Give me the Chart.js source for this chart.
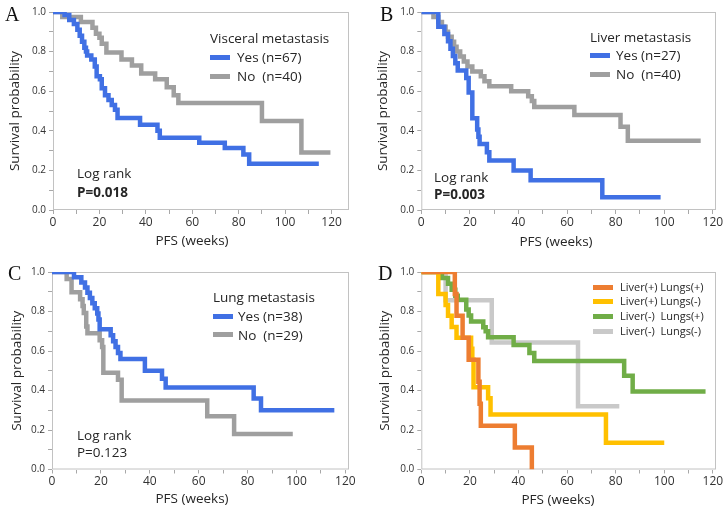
<!DOCTYPE html>
<html>
<head>
    <meta charset="UTF-8">
    <title>PFS by metastasis site</title>
    <script src="https://cdn.jsdelivr.net/npm/chart.js"></script>
    <style>
        body { margin: 0; background: #fff; font-family: 'Open Sans', sans-serif; color: #262626; }
        #page { position: relative; width: 727px; height: 516px; overflow: hidden; }
        canvas { position: absolute; }
        .letter { position: absolute; font-family: 'Liberation Serif', serif; font-size: 20px; line-height: 20px; color: #111; }
        .txt { position: absolute; font-size: 13.5px; line-height: 16px; white-space: pre; }
        .small { font-size: 11px; line-height: 14px; }
        .xt { position: absolute; width: 200px; text-align: center; font-size: 13.5px; line-height: 16px; }
        .sw { position: absolute; width: 20px; height: 5px; }
    </style>
</head>
<body>
<div id="page">
    <canvas id="chartA" width="363" height="258" style="left:0;top:0"></canvas>
    <canvas id="chartB" width="364" height="258" style="left:363px;top:0"></canvas>
    <canvas id="chartC" width="363" height="258" style="left:0;top:258px"></canvas>
    <canvas id="chartD" width="364" height="258" style="left:363px;top:258px"></canvas>

    <!-- panel letters -->
    <div class="letter" style="left:5px;top:4px">A</div>
    <div class="letter" style="left:380px;top:4px">B</div>
    <div class="letter" style="left:8px;top:263px">C</div>
    <div class="letter" style="left:378px;top:263px">D</div>

    <!-- x axis titles -->
    <div class="xt" style="left:92px;top:232px">PFS (weeks)</div>
    <div class="xt" style="left:456px;top:233px">PFS (weeks)</div>
    <div class="xt" style="left:92px;top:490px">PFS (weeks)</div>
    <div class="xt" style="left:458px;top:491px">PFS (weeks)</div>

    <!-- A legend -->
    <div class="txt" style="left:210px;top:30px">Visceral metastasis</div>
    <div class="sw" style="left:210px;top:54.5px;background:#4070e4"></div>
    <div class="txt" style="left:237px;top:49px">Yes (n=67)</div>
    <div class="sw" style="left:210px;top:73.5px;background:#9f9f9f"></div>
    <div class="txt" style="left:237px;top:68px">No  (n=40)</div>
    <div class="txt" style="left:77px;top:165px">Log rank</div>
    <div class="txt" style="left:77px;top:184px;font-weight:bold">P=0.018</div>

    <!-- B legend -->
    <div class="txt" style="left:590px;top:29px">Liver metastasis</div>
    <div class="sw" style="left:590px;top:52.5px;background:#4070e4"></div>
    <div class="txt" style="left:616px;top:47px">Yes (n=27)</div>
    <div class="sw" style="left:590px;top:71.5px;background:#9f9f9f"></div>
    <div class="txt" style="left:616px;top:66px">No  (n=40)</div>
    <div class="txt" style="left:434px;top:169px">Log rank</div>
    <div class="txt" style="left:434px;top:186px;font-weight:bold">P=0.003</div>

    <!-- C legend -->
    <div class="txt" style="left:213px;top:289px">Lung metastasis</div>
    <div class="sw" style="left:213px;top:313.5px;background:#4070e4"></div>
    <div class="txt" style="left:238px;top:308px">Yes (n=38)</div>
    <div class="sw" style="left:213px;top:332px;background:#9f9f9f"></div>
    <div class="txt" style="left:238px;top:327px">No  (n=29)</div>
    <div class="txt" style="left:77px;top:427px">Log rank</div>
    <div class="txt" style="left:77px;top:444px">P=0.123</div>

    <!-- D legend -->
    <div class="sw" style="left:593px;top:285px;background:#ed7d31"></div>
    <div class="txt small" style="left:620px;top:280px">Liver(+) Lungs(+)</div>
    <div class="sw" style="left:593px;top:299px;background:#ffc000"></div>
    <div class="txt small" style="left:620px;top:294px">Liver(+) Lungs(-)</div>
    <div class="sw" style="left:593px;top:314px;background:#70ad47"></div>
    <div class="txt small" style="left:620px;top:309px">Liver(-)  Lungs(+)</div>
    <div class="sw" style="left:593px;top:329px;background:#c9c9c9"></div>
    <div class="txt small" style="left:620px;top:324px">Liver(-)  Lungs(-)</div>
</div>

<script>
    // Panel A - visceral metastasis
    var visYesWeeks = [0, 5, 7, 9, 10.5, 11.5, 12.5, 13.5, 14.2, 14.7, 16.5, 18, 18.8, 20.2, 21, 22.4, 23.9, 25.3, 26.7, 27.8, 37.5, 45, 46, 63, 74, 82, 84.5, 114.5];
    var visYesSurv = [1, 0.985, 0.96, 0.94, 0.91, 0.88, 0.85, 0.82, 0.80, 0.78, 0.76, 0.725, 0.675, 0.66, 0.615, 0.58, 0.556, 0.53, 0.506, 0.465, 0.43, 0.40, 0.365, 0.34, 0.313, 0.28, 0.233, 0.233];
    var visNoWeeks = [0, 4, 12, 17, 18.5, 20, 21, 23, 29.5, 34, 38, 44, 49, 52, 54, 90, 107, 119.5];
    var visNoSurv = [1, 0.975, 0.95, 0.92, 0.89, 0.87, 0.84, 0.795, 0.76, 0.73, 0.69, 0.66, 0.62, 0.58, 0.54, 0.45, 0.29, 0.29];

    // Panel B - liver metastasis
    var livYesWeeks = [0, 7, 9.5, 11, 12, 13, 14, 15, 18.5, 19.5, 21, 23, 23.5, 24, 27, 28, 38, 45, 74.5, 98.5];
    var livYesSurv = [1, 0.926, 0.889, 0.852, 0.815, 0.778, 0.741, 0.704, 0.667, 0.593, 0.463, 0.407, 0.37, 0.333, 0.292, 0.25, 0.20, 0.15, 0.065, 0.065];
    var livNoWeeks = [0, 5, 7, 8.5, 10, 11, 12.5, 13.5, 14.5, 16, 17.5, 19, 21, 24.5, 26, 28, 37, 44, 45.5, 46.5, 63, 82, 85, 115];
    var livNoSurv = [1, 0.975, 0.95, 0.925, 0.90, 0.875, 0.85, 0.825, 0.80, 0.775, 0.75, 0.725, 0.70, 0.675, 0.65, 0.625, 0.60, 0.575, 0.55, 0.52, 0.48, 0.42, 0.35, 0.35];

    // Panel C - lung metastasis
    var lungYesWeeks = [0, 9, 12, 13.5, 14.5, 15.5, 16.5, 17.5, 18.5, 19, 19.5, 24, 25, 26, 27, 28, 38, 45, 46.5, 82.5, 85.5, 115.5];
    var lungYesSurv = [1, 0.974, 0.947, 0.921, 0.895, 0.868, 0.842, 0.816, 0.79, 0.76, 0.71, 0.68, 0.65, 0.62, 0.59, 0.56, 0.50, 0.46, 0.415, 0.36, 0.30, 0.30];
    var lungNoWeeks = [0, 6, 8, 11.5, 12.5, 13, 14, 14.5, 19.5, 20.5, 21, 27, 28.5, 63.5, 74.5, 98.5];
    var lungNoSurv = [1, 0.965, 0.897, 0.862, 0.828, 0.793, 0.724, 0.69, 0.655, 0.62, 0.49, 0.455, 0.35, 0.27, 0.18, 0.18];

    // Panel D - combined groups
    var lpLpWeeks = [0, 13.8, 14.5, 17, 19.5, 23.5, 24, 24.5, 38.5, 45.5];
    var lpLpSurv = [1, 0.889, 0.778, 0.667, 0.556, 0.444, 0.333, 0.222, 0.111, 0];
    var lpLmWeeks = [0, 7, 10, 11, 12.5, 14.5, 20.5, 21, 21.5, 27.5, 28.5, 76, 100];
    var lpLmSurv = [1, 0.889, 0.833, 0.778, 0.722, 0.667, 0.611, 0.556, 0.417, 0.361, 0.278, 0.135, 0.135];
    var lmLpWeeks = [0, 8.5, 11, 12.5, 14, 15, 18.5, 19.5, 20.5, 25.5, 26.5, 27.5, 38, 44.5, 46.5, 83.5, 87, 117];
    var lmLpSurv = [1, 0.97, 0.94, 0.91, 0.88, 0.86, 0.81, 0.78, 0.75, 0.72, 0.70, 0.67, 0.63, 0.59, 0.55, 0.475, 0.395, 0.395];
    var lmLmWeeks = [0, 10, 29, 64.5, 81.5];
    var lmLmSurv = [1, 0.857, 0.643, 0.32, 0.32];

    var xStep = 10;
    var yStep = 0.1;

    function pts(weeks, surv) {
        return weeks.map(function (t, i) { return { x: t, y: surv[i] }; });
    }

    // light grey box round the plot area
    var framePlugin = {
        id: 'frame',
        beforeDatasetsDraw: function (chart) {
            var a = chart.chartArea, c = chart.ctx;
            c.save();
            c.strokeStyle = '#c2c2c2';
            c.lineWidth = 1;
            c.strokeRect(a.left + 0.5, a.top + 0.5, a.right - a.left - 1, a.bottom - a.top - 1);
            c.restore();
        }
    };

    function makeChart(id, series, L) {
        return new Chart(document.getElementById(id), {
            type: 'line',
            data: {
                datasets: series.map(function (s, i) {
                    return {
                        data: pts(s.weeks, s.surv),
                        borderColor: s.color,
                        borderWidth: 4.5,
                        stepped: true,
                        pointRadius: 0,
                        fill: false,
                        borderCapStyle: 'butt',
                        borderJoinStyle: 'miter',
                        order: i
                    };
                })
            },
            options: {
                responsive: false,
                animation: false,
                devicePixelRatio: 1,
                layout: { padding: { top: L.top, right: L.right, left: 0, bottom: 0 } },
                plugins: { legend: { display: false }, tooltip: { enabled: false } },
                scales: {
                    x: {
                        type: 'linear',
                        min: 0,
                        max: L.xMax,
                        border: { display: false },
                        grid: { drawOnChartArea: false, drawTicks: true, tickLength: 4, color: '#a8a8a8' },
                        ticks: {
                            stepSize: xStep,
                            includeBounds: false,
                            autoSkip: false,
                            maxRotation: 0,
                            padding: 1,
                            color: '#333',
                            font: { family: 'Open Sans', size: 12 },
                            callback: function (v) { return v % 20 === 0 ? v : ''; }
                        },
                        afterFit: function (s) { s.height = L.xh; }
                    },
                    y: {
                        min: 0,
                        max: 1,
                        border: { display: false },
                        grid: { drawOnChartArea: false, drawTicks: true, tickLength: 4, color: '#a8a8a8' },
                        ticks: {
                            stepSize: yStep,
                            autoSkip: false,
                            padding: 3,
                            color: '#333',
                            font: { family: 'Open Sans', size: 10 },
                            callback: function (v) { return Math.round(v * 10) % 2 === 0 ? v.toFixed(1) : ''; }
                        },
                        title: {
                            display: true,
                            text: 'Survival probability',
                            color: '#262626',
                            font: { family: 'Open Sans', size: 13.5 },
                            padding: { top: L.ytp, bottom: 0 }
                        },
                        afterFit: function (s) { s.width = L.yw; }
                    }
                }
            },
            plugins: [framePlugin]
        });
    }

    var blue = '#4070e4', grey = '#9f9f9f';

    makeChart('chartA', [
        { weeks: visYesWeeks, surv: visYesSurv, color: blue },
        { weeks: visNoWeeks, surv: visNoSurv, color: grey }
    ], { top: 12, right: 14, yw: 53, xh: 48, xMax: 127.5, ytp: 7 });

    makeChart('chartB', [
        { weeks: livYesWeeks, surv: livYesSurv, color: blue },
        { weeks: livNoWeeks, surv: livNoSurv, color: grey }
    ], { top: 12, right: 11, yw: 58.3, xh: 48, xMax: 121.3, ytp: 12 });

    makeChart('chartC', [
        { weeks: lungYesWeeks, surv: lungYesSurv, color: blue },
        { weeks: lungNoWeeks, surv: lungNoSurv, color: grey }
    ], { top: 14, right: 14, yw: 52, xh: 46.5, xMax: 121.5, ytp: 8.6 });

    makeChart('chartD', [
        { weeks: lpLpWeeks, surv: lpLpSurv, color: '#ed7d31' },
        { weeks: lpLmWeeks, surv: lpLmSurv, color: '#ffc000' },
        { weeks: lmLpWeeks, surv: lmLpSurv, color: '#70ad47' },
        { weeks: lmLmWeeks, surv: lmLmSurv, color: '#c9c9c9' }
    ], { top: 14, right: 11, yw: 58.3, xh: 46.5, xMax: 121.3, ytp: 13.6 });
</script>
</body>
</html>
